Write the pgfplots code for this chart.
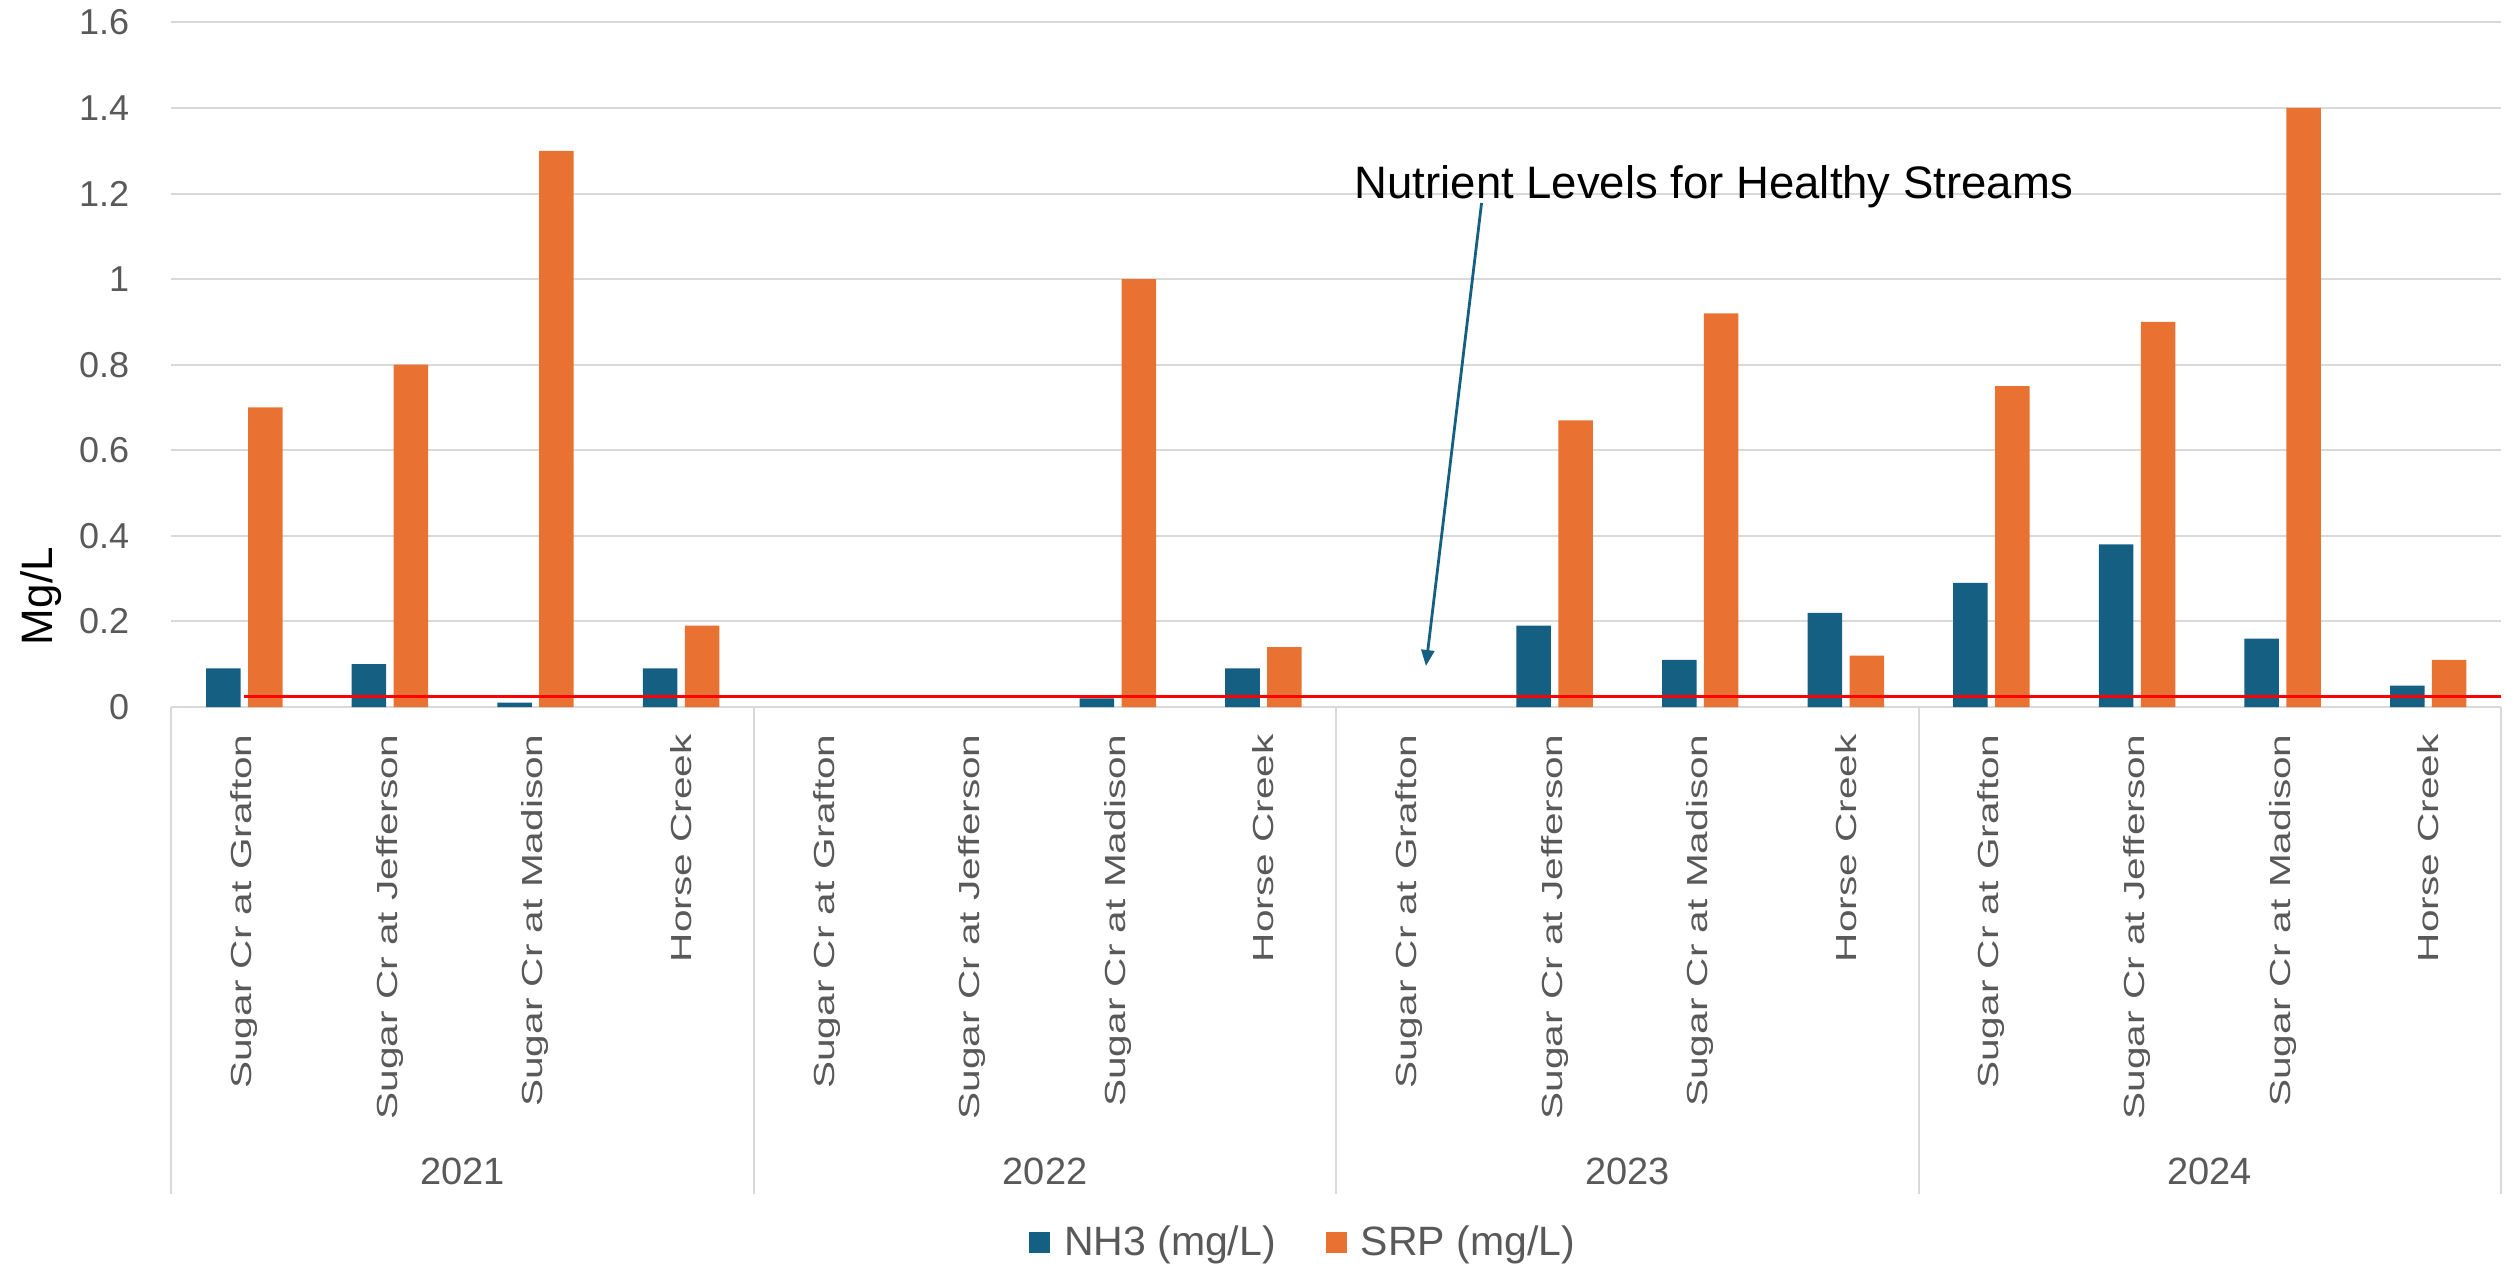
\documentclass[border=0pt]{standalone}
\usepackage{pgfplots}
\pgfplotsset{compat=1.18}
\usepackage{pgfplotstable}
\usepackage{fontspec}
\setmainfont{Liberation Sans}
\newfontfamily\sitefont[FakeStretch=1.4]{Liberation Sans}
\usetikzlibrary{arrows.meta}

\definecolor{nhblue}{HTML}{156082}
\definecolor{srporange}{HTML}{E97132}
\definecolor{labelgray}{HTML}{595959}
\definecolor{gridgray}{HTML}{D9D9D9}

% Positions 0-15: four sites per year, 2021-2024
\pgfplotstableread{
pos nh3
0 0.09
1 0.10
2 0.01
3 0.09
6 0.02
7 0.09
9 0.19
10 0.11
11 0.22
12 0.29
13 0.38
14 0.16
15 0.05
}\nhthree

\pgfplotstableread{
pos srp
0 0.70
1 0.80
2 1.30
3 0.19
6 1.00
7 0.14
9 0.67
10 0.92
11 0.12
12 0.75
13 0.90
14 1.40
15 0.11
}\srp

% Healthy-stream nutrient level
\pgfplotstableread{
pos level
0 0.025
15.5 0.025
}\healthy

\begin{document}
\begin{tikzpicture}
\useasboundingbox (0,0) rectangle (1257pt,632.5pt);
\begin{axis}[
  at={(85.75pt,279pt)}, anchor=south west,
  scale only axis, width=1164.75pt, height=342.3pt,
  xmin=-0.5, xmax=15.5, ymin=0, ymax=1.6,
  clip=false,
  axis x line*=bottom, axis y line*=left,
  x axis line style={draw=gridgray, line width=1pt},
  y axis line style={draw=none},
  ymajorgrids, grid style={gridgray, line width=1pt},
  major tick length=0pt,
  ytick={0,0.2,0.4,0.6,0.8,1,1.2,1.4,1.6},
  /pgf/number format/assume math mode=true,
  yticklabel style={font=\fontsize{18}{18}\selectfont, text=labelgray, anchor=east, inner sep=0pt},
  yticklabel shift=21pt,
  xtick={0,...,15},
  xticklabels={Sugar Cr at Grafton, Sugar Cr at Jefferson, Sugar Cr at Madison, Horse Creek,
               Sugar Cr at Grafton, Sugar Cr at Jefferson, Sugar Cr at Madison, Horse Creek,
               Sugar Cr at Grafton, Sugar Cr at Jefferson, Sugar Cr at Madison, Horse Creek,
               Sugar Cr at Grafton, Sugar Cr at Jefferson, Sugar Cr at Madison, Horse Creek},
  xticklabel style={rotate=90, anchor=east, inner sep=0pt,
                    font=\sitefont\fontsize{14.5}{14.5}\selectfont, text=labelgray},
  xticklabel shift=13.5pt,
  ylabel={Mg/L},
  ylabel style={at={(axis description cs:-0.0509,0.162)}, anchor=base,
                font=\fontsize{22}{22}\selectfont, text=black},
  legend image code/.code={\fill[#1] (0pt,-5.25pt) rectangle (10.5pt,5.25pt);},
  legend style={at={(0.4853,-0.782)}, anchor=center, draw=none, fill=none,
                legend columns=-1, font=\fontsize{20.5}{20.5}\selectfont, text=labelgray,
                nodes={inner sep=0pt},
                /tikz/every odd column/.append style={column sep=7pt},
                /tikz/every even column/.append style={column sep=25pt}},
]
\addplot[ybar, bar width=0.237, bar shift=-0.144, fill=nhblue, draw=none]
  table[x=pos, y=nh3] {\nhthree};
\addlegendentry{NH3 (mg/L)}
\addplot[ybar, bar width=0.237, bar shift=0.144, fill=srporange, draw=none]
  table[x=pos, y=srp] {\srp};
\addlegendentry{SRP (mg/L)}
\addplot[forget plot, red, line width=1.65pt] table[x=pos, y=level] {\healthy};

% year group separators and labels
\draw[gridgray, line width=1pt] (axis cs:-0.5,0) -- ++(0pt,-243.5pt);
\draw[gridgray, line width=1pt] (axis cs:3.5,0) -- ++(0pt,-243.5pt);
\draw[gridgray, line width=1pt] (axis cs:7.5,0) -- ++(0pt,-243.5pt);
\draw[gridgray, line width=1pt] (axis cs:11.5,0) -- ++(0pt,-243.5pt);
\draw[gridgray, line width=1pt] (axis cs:15.5,0) -- ++(0pt,-243.5pt);
\node[font=\fontsize{19}{19}\selectfont, text=labelgray, anchor=base] at ([yshift=-238.5pt]axis cs:1.5,0) {2021};
\node[font=\fontsize{19}{19}\selectfont, text=labelgray, anchor=base] at ([yshift=-238.5pt]axis cs:5.5,0) {2022};
\node[font=\fontsize{19}{19}\selectfont, text=labelgray, anchor=base] at ([yshift=-238.5pt]axis cs:9.5,0) {2023};
\node[font=\fontsize{19}{19}\selectfont, text=labelgray, anchor=base] at ([yshift=-238.5pt]axis cs:13.5,0) {2024};

% annotation for the reference line
\node[font=\fontsize{22.75}{22.75}\selectfont, text=black, anchor=base, inner sep=0pt]
  at (axis cs:10.093,1.1895) {Nutrient Levels for Healthy Streams};
\draw[nhblue, line width=1.4pt, -{Triangle[length=8pt, width=6.5pt]}]
  (axis cs:8.498,1.178) -- (axis cs:8.116,0.0958);
\end{axis}
\end{tikzpicture}
\end{document}
